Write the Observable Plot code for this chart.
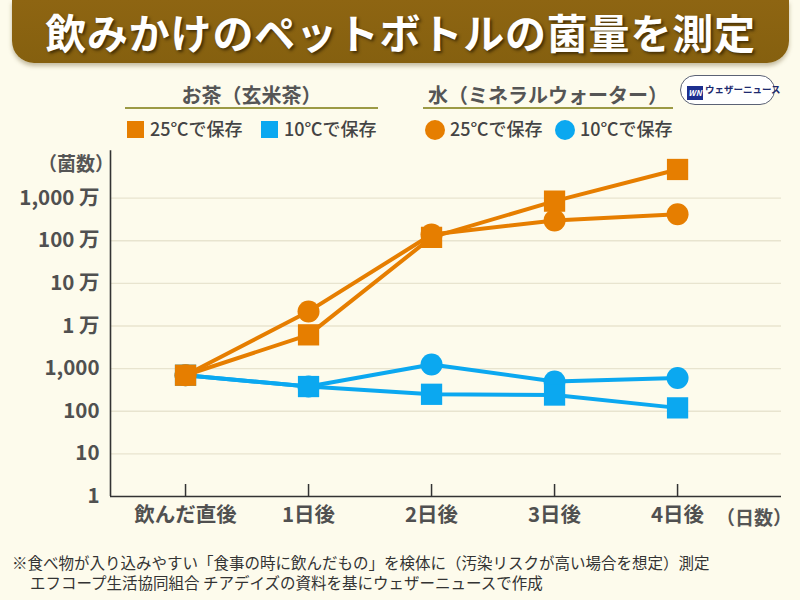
<!DOCTYPE html>
<html><head><meta charset="utf-8">
<script src="https://cdn.jsdelivr.net/npm/d3@7"></script>
<script src="https://cdn.jsdelivr.net/npm/@observablehq/plot@0.6"></script>
<style>
  html,body{margin:0;padding:0;}
  body{width:800px;height:600px;background:#FDFBEC;position:relative;overflow:hidden;font-family:"Noto Sans CJK JP","Noto Sans",sans-serif;}
  .abs{position:absolute;white-space:nowrap;}
  #title{left:12px;top:0;width:777px;height:63px;background:linear-gradient(#8E6512,#85600f);border-radius:0 0 22px 22px;box-shadow:0 3px 4px rgba(90,70,20,0.35);color:#fff;font-weight:700;font-size:41px;line-height:63px;text-align:center;letter-spacing:0.8px;text-shadow:2px 2px 3px rgba(40,25,0,0.7);}
  .grp{font-size:20px;font-weight:700;color:#555;text-align:center;}
  .uline{height:2px;background:#9C9A45;}
  .item{font-size:18px;font-weight:500;color:#444;line-height:20px;}
  .sw{display:inline-block;width:17px;height:17px;vertical-align:-2px;margin-right:6px;}
  .circ{border-radius:50%;width:20px;height:20px;vertical-align:-4px;margin-right:5px;}
  #logo{left:680px;top:75px;width:95px;height:30px;border:1.5px solid #5b6275;border-radius:15px;background:#fff;box-sizing:border-box;font-size:9.5px;font-weight:700;color:#1d2a6e;line-height:27px;}
  #plot{position:absolute;left:0;top:140px;}
  .foot{font-size:15.5px;color:#333;}
  .axlab{font-size:19px;font-weight:700;color:#555;}
</style></head>
<body>
<div id="title" class="abs">飲みかけのペットボトルの菌量を測定</div>

<div class="abs grp" style="left:125px;top:80px;width:253px;">お茶（玄米茶）</div>
<div class="abs uline" style="left:125px;top:107px;width:253px;"></div>
<div class="abs item" style="left:127px;top:118px;"><span class="sw" id="sw1"></span>25℃で保存</div>
<div class="abs item" style="left:261px;top:118px;"><span class="sw" id="sw2"></span>10℃で保存</div>

<div class="abs grp" style="left:423px;top:80px;width:250px;">水（ミネラルウォーター）</div>
<div class="abs uline" style="left:423px;top:107px;width:250px;"></div>
<div class="abs item" style="left:425px;top:118px;"><span class="sw circ" id="sw3"></span>25℃で保存</div>
<div class="abs item" style="left:555px;top:118px;"><span class="sw circ" id="sw4"></span>10℃で保存</div>

<div id="logo" class="abs"><span style="display:inline-block;width:16px;height:14px;background:#1d2f8f;color:#fff;font-size:8px;font-style:italic;line-height:14px;text-align:center;margin:0 2px 0 6px;vertical-align:-3px;">WN</span>ウェザーニュース</div>

<div id="plot"></div>
<div class="abs axlab" style="left:38px;top:149px;">（菌数）</div>
<div class="abs axlab" style="left:716px;top:503px;">（日数）</div>

<div class="abs foot" style="left:12px;top:551px;">※食べ物が入り込みやすい「食事の時に飲んだもの」を検体に（汚染リスクが高い場合を想定）測定</div>
<div class="abs foot" style="left:30px;top:571px;">エフコープ生活協同組合 チアデイズの資料を基にウェザーニュースで作成</div>

<script>
// ---- data ----
const days = ["飲んだ直後", "1日後", "2日後", "3日後", "4日後"];
const tea25   = [700, 6200, 1200000, 8500000, 47000000];
const tea10   = [700, 380, 250, 240, 120];
const water25 = [700, 22000, 1400000, 3000000, 4200000];
const water10 = [700, 380, 1250, 500, 600];
const yTicks = [1, 10, 100, 1000, 10000, 100000, 1000000, 10000000];
const yTickLabels = ["1", "10", "100", "1,000", "1 万", "10 万", "100 万", "1,000 万"];

const orange = "#E67E00";
const blue = "#0BA8F0";
document.getElementById("sw1").style.background = orange;
document.getElementById("sw2").style.background = blue;
document.getElementById("sw3").style.background = orange;
document.getElementById("sw4").style.background = blue;

const toRows = (vals, series) => vals.map((v, i) => ({i, v, series}));
const rT25 = toRows(tea25, "tea25"), rT10 = toRows(tea10, "tea10");
const rW25 = toRows(water25, "water25"), rW10 = toRows(water10, "water10");
const idx = days.map((d, i) => i);

const chart = Plot.plot({
  width: 800,
  height: 400,
  marginLeft: 110,
  marginRight: 19,
  marginTop: 15,
  marginBottom: 44,
  style: {background: "transparent", fontFamily: "'Noto Sans CJK JP', sans-serif", overflow: "visible"},
  x: {type: "linear", domain: [-0.61, 4.845]},
  y: {type: "log", domain: [1, 1e8]},
  marks: [
    Plot.ruleY(yTicks.slice(1), {y: d => d, stroke: "#E8E4CF", strokeWidth: 1.3}),
    Plot.axisY({ticks: yTicks, tickFormat: d => yTickLabels[yTicks.indexOf(d)], tickSize: 0, tickPadding: 11, fontSize: 20.5, fontWeight: "bold", fill: "#505050", label: null}),
    Plot.axisX({ticks: idx, tickFormat: d => days[d], tickSize: 0, tickPadding: 11, fontSize: 20.5, fontWeight: "bold", fill: "#505050", label: null}),
    Plot.axisX({ticks: idx, text: null, tickSize: -12, stroke: "#333", strokeWidth: 1.5, label: null}),
    Plot.ruleY([1], {stroke: "#333", strokeWidth: 1.6}),
    Plot.ruleX([-0.61], {y1: 1, y2: 1.3e8, stroke: "#333", strokeWidth: 1.6}),
    // blue
    Plot.line(rW10, {x: "i", y: "v", stroke: blue, strokeWidth: 4}),
    Plot.line(rT10, {x: "i", y: "v", stroke: blue, strokeWidth: 4}),
    Plot.dot(rW10, {x: "i", y: "v", r: 11, fill: blue, symbol: "circle"}),
    Plot.dot(rT10, {x: "i", y: "v", r: 12, fill: blue, symbol: "square"}),
    // orange
    Plot.line(rW25, {x: "i", y: "v", stroke: orange, strokeWidth: 4}),
    Plot.line(rT25, {x: "i", y: "v", stroke: orange, strokeWidth: 4}),
    Plot.dot(rW25, {x: "i", y: "v", r: 11, fill: orange, symbol: "circle"}),
    Plot.dot(rT25, {x: "i", y: "v", r: 12, fill: orange, symbol: "square"})
  ]
});
document.getElementById("plot").appendChild(chart);
</script>
</body></html>
